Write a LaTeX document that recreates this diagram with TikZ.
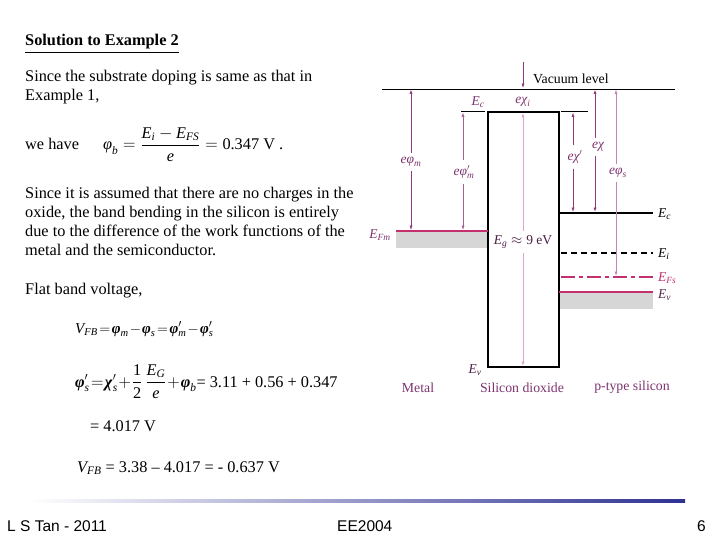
\documentclass[tikz,border=0pt]{standalone}
\usepackage{amsmath}
\usepackage{fontspec}
\setmainfont{Liberation Serif}
\newfontfamily\footfont{Liberation Sans}
\usetikzlibrary{arrows.meta}
\definecolor{arrP}{HTML}{8E3A78}
\definecolor{arrL}{HTML}{DDA6CA}
\definecolor{lineC}{HTML}{C4306E}
\definecolor{labP}{HTML}{7D3270}
\definecolor{fillG}{HTML}{D6D6D6}
\definecolor{navy}{HTML}{2E3192}
\newcommand\iv[1]{\textit{#1}}
\newcommand\bv[1]{\textbf{\textit{#1}}}
\newcommand\tightmath{\thickmuskip=2mu\medmuskip=1.5mu}
\tikzset{
  body/.style={anchor=base west, inner sep=0pt, font=\fontsize{16.3bp}{19bp}\selectfont},
  eqsmall/.style={anchor=base west, inner sep=0pt, font=\fontsize{15bp}{18bp}\selectfont},
  lab/.style={inner sep=2.5pt, font=\fontsize{13.5bp}{15bp}\selectfont, text=labP},
  blab/.style={inner sep=1pt, anchor=west, font=\fontsize{13.5bp}{15bp}\selectfont},
  region/.style={inner sep=1pt, font=\fontsize{13.8bp}{15bp}\selectfont, text=labP},
  tipp/.style={-{Latex[length=4.5pt,width=3.2pt]}},
  foot/.style={anchor=base west, inner sep=0pt, font=\footfont\fontsize{15.5bp}{18bp}\selectfont},
  band/.style={line width=2pt},
}
\begin{document}
\begin{tikzpicture}[x=1bp,y=-1bp]
\useasboundingbox (0,0) rectangle (720,540);
% ---------- left text ----------
\node[body] (title) at (25,46) {\textbf{Solution to Example 2}};
\draw[line width=0.8pt] ([yshift=-3bp]title.south west) -- ([yshift=-3bp]title.south east);
\node[body] (l1) at (25,82) {Since the substrate doping is same as that in};
\node[body] (l2) at (25,101) {Example 1,};
\node[body] (l3) at (25,150) {we have};
\node[body] (f1) at (103,150) {$\iv{φ}_{\iv{b}} = \dfrac{\iv{E}_{\iv{i}} - \iv{E}_{\iv{FS}}}{\iv{e}} = \text{0.347 V .}$};
\node[body] (p1) at (25,199) {Since it is assumed that there are no charges in the};
\node[body] (p2) at (25,218) {oxide, the band bending in the silicon is entirely};
\node[body] (p3) at (25,237) {due to the difference of the work functions of the};
\node[body] (p4) at (25,256) {metal and the semiconductor.};
\node[body] (fb) at (25,294) {Flat band voltage,};
\node[eqsmall] (e1) at (75,333) {\tightmath$\iv{V}_{\iv{FB}} = \bv{φ}_{\iv{m}} - \bv{φ}_{\iv{s}} = \bv{φ}^{\prime}_{\iv{m}} - \bv{φ}^{\prime}_{\iv{s}}$};
\node[body] (e2) at (75,387) {\thickmuskip=1.5mu\medmuskip=1mu$\bv{φ}^{\prime}_{\iv{s}} = \bv{χ}^{\prime}_{\iv{s}} + \dfrac{\text{1}}{\text{2}}\,\dfrac{\iv{E}_{\iv{G}}}{\iv{e}} + \bv{φ}_{\iv{b}}\text{= 3.11 + 0.56 + 0.347}$};
\node[body] (e3) at (90,431) {= 4.017 V};
\node[body] (e4) at (77,472) {$\iv{V}_{\iv{FB}}$ = 3.38 – 4.017 = - 0.637 V};
% ---------- band diagram ----------
% fills
\fill[fillG] (396,231) rectangle (488,248);
\fill[fillG] (559,292) rectangle (653,309);
% vacuum level
\draw[line width=0.9pt] (382,89) -- (675,89);
\node[inner sep=1pt, anchor=west, font=\fontsize{13.8bp}{15bp}\selectfont] (vac) at (532,79) {Vacuum level};
% oxide
\draw[line width=1.4pt] (488,112) rectangle (559,367);
\draw[line width=1pt] (461,112) -- (485,112);
\draw[line width=1pt] (561,112) -- (588,112);
% metal Fermi level
\draw[band, lineC] (396,231) -- (488,231);
% silicon levels
\draw[band] (559,213) -- (653,213);
\draw[band, dash pattern=on 6pt off 4pt] (561,253) -- (653,253);
\draw[band, lineC, dash pattern=on 14pt off 4pt on 4pt off 4pt] (561,277) -- (653,277);
\draw[band, lineC] (559,292) -- (653,292);
% level labels
\node[blab] (EcS) at (657,214) {$\iv{E}_{\iv{c}}$};
\node[blab] (EiS) at (657,254) {$\iv{E}_{\iv{i}}$};
\node[blab, text=lineC] (EFsS) at (657,278) {$\iv{E}_{\iv{Fs}}$};
\node[blab, text=labP!70!black] (EvS) at (657,295) {$\iv{E}_{\iv{v}}$};
\node[lab] (EFmL) at (380,235) {$\iv{E}_{\iv{Fm}}$};
\node[lab] (EcO) at (478,102) {$\iv{E}_{\iv{c}}$};
\node[lab, text=labP!60!black] (EvO) at (475,370) {$\iv{E}_{\iv{v}}$};
\node[lab] (chiiL) at (523,102) {$\iv{eχ}_{\iv{i}}$};
% arrows
\coordinate (chiT) at (523,62);
\coordinate (chiB) at (523,88);
\draw[arrP, line width=0.7pt, tipp] (chiT) -- (chiB);
\node[lab, text=labP!60!black, inner sep=4pt] (EgL) at (523,242) {$\iv{E}_{\iv{g}} \approx \text{9 eV}$};
\coordinate (EgT) at (523,113);
\coordinate (EgB) at (523,366);
\draw[arrL, line width=0.8pt, tipp] (EgL.north) -- (EgT);
\draw[arrL, line width=0.8pt, tipp] (EgL.south) -- (EgB);
% e phi m
\node[lab, inner sep=4pt] (phimL) at (411,162) {$\iv{eφ}_{\iv{m}}$};
\coordinate (phimT) at (411,89.5);
\coordinate (phimB) at (411,230);
\draw[arrP, line width=0.7pt, tipp] (phimL.north) -- (phimT);
\draw[arrP, line width=0.7pt, tipp] (phimL.south) -- (phimB);
% e phi m prime
\node[lab, inner sep=5pt] (phimpL) at (464,172) {$\iv{eφ}^{\prime}_{\iv{m}}$};
\coordinate (phimpT) at (463,112.5);
\coordinate (phimpB) at (463,230);
\draw[arrP!80!white, line width=0.7pt, tipp] (phimpL.north -| phimpT) -- (phimpT);
\draw[arrP!80!white, line width=0.7pt, tipp] (phimpL.south -| phimpT) -- (phimpB);
% e chi prime
\node[lab, inner sep=5pt] (chipL) at (575,157) {$\iv{eχ}^{\prime}$};
\coordinate (chipT) at (573,112.5);
\coordinate (chipB) at (573,212);
\draw[arrP, line width=0.7pt, tipp] (chipL.north -| chipT) -- (chipT);
\draw[arrP, line width=0.7pt, tipp] (chipL.south -| chipT) -- (chipB);
% e chi
\node[lab, inner sep=4pt] (chiL) at (598,147) {$\iv{eχ}$};
\coordinate (chiTT) at (595,89.5);
\coordinate (chiBB) at (595,212);
\draw[arrP, line width=1pt, tipp] (chiL.north -| chiTT) -- (chiTT);
\draw[arrP, line width=1pt, tipp] (chiL.south -| chiTT) -- (chiBB);
% e phi s
\node[lab, inner sep=4pt] (phisL) at (618,173) {$\iv{eφ}_{\iv{s}}$};
\coordinate (phisT) at (616,89.5);
\coordinate (phisB) at (616,276);
\draw[arrL!70!arrP, line width=0.8pt, tipp] (phisL.north -| phisT) -- (phisT);
\draw[arrL!70!arrP, line width=0.8pt, tipp] (phisL.south -| phisT) -- (phisB);
% region labels
\node[region] (metal) at (418,388) {Metal};
\node[region] (sio2) at (522,388) {Silicon dioxide};
\node[region] (psi) at (632,387) {p-type silicon};
% ---------- footer ----------
\shade[left color=white, right color=navy] (30,499.5) rectangle (685,502.5);
\node[foot] (author) at (7,531) {L S Tan - 2011};
\node[foot] (course) at (337,531) {EE2004};
\node[foot] (page) at (697,531) {6};
\end{tikzpicture}
\end{document}
